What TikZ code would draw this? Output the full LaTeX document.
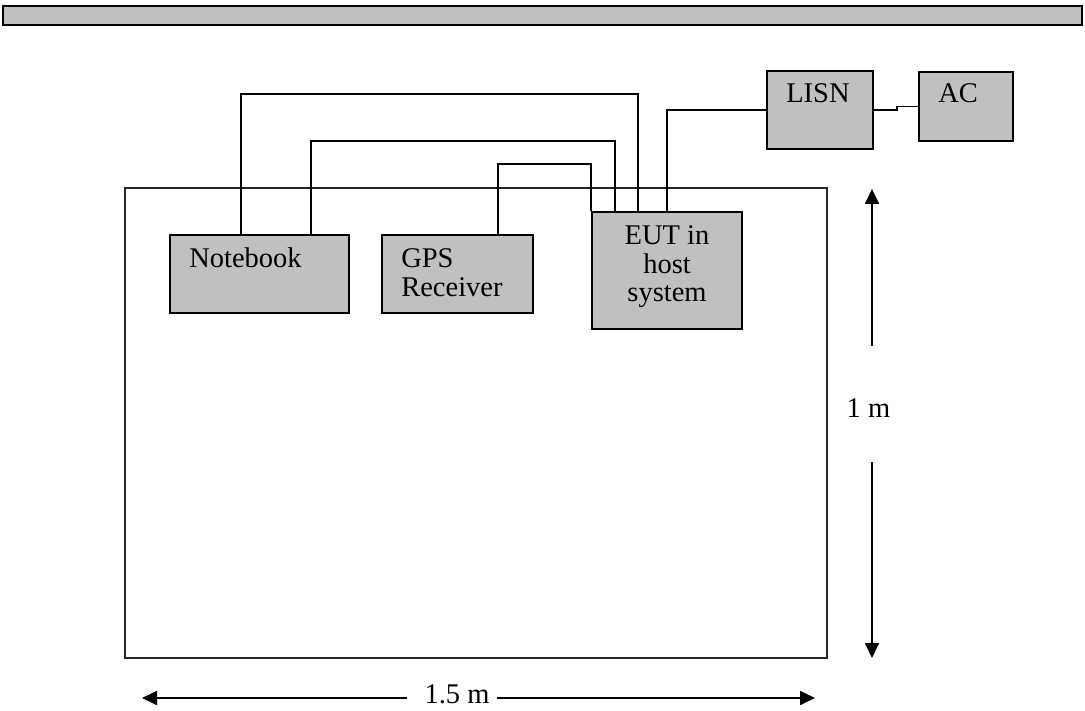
\documentclass[tikz,border=0pt]{standalone}
\usepackage{fontspec}
\setmainfont{Liberation Serif}
\usetikzlibrary{arrows.meta}
\tikzset{>={Triangle[length=15pt,width=14pt]}}
\definecolor{boxgray}{RGB}{192,192,192}
\tikzstyle{unitbox}=[draw=black,fill=boxgray,line width=1.8pt,inner sep=0pt]
\tikzstyle{cable}=[draw=black,line width=1.8pt]
\tikzstyle{dimline}=[draw=black,line width=1.8pt]
\tikzstyle{lbl}=[inner sep=0pt,font=\fontsize{28.5}{29}\selectfont]

\begin{document}
\begin{tikzpicture}[x=1pt,y=-1pt]
    \useasboundingbox (0,0) rectangle (1085,711);
    % ground plane bar
    \draw[unitbox] (3,6) rectangle (1082,25);
    % table
    \node[draw=black!85,line width=1.8pt,minimum width=702pt,minimum height=470pt,inner sep=0pt] (table) at (476,423) {};

    \node[unitbox,minimum width=179pt,minimum height=78pt] (nb) at (259.5,274) {};
    \node[unitbox,minimum width=151pt,minimum height=78pt] (gps) at (457.5,274) {};
    \node[unitbox,minimum width=150pt,minimum height=117pt] (eut) at (667,270.5) {};
    \node[unitbox,minimum width=106pt,minimum height=78pt] (lisn) at (820,110) {};
    \node[unitbox,minimum width=94pt,minimum height=69pt] (ac) at (966,106.5) {};

    \node[lbl,anchor=base west] (nbtext) at ([shift={(20,33)}]nb.north west) {Notebook};
    \node[lbl,anchor=base west] (gpstext) at ([shift={(20,33)}]gps.north west) {GPS};
    \node[lbl,anchor=base west] (rcvtext) at ([shift={(20,62)}]gps.north west) {Receiver};
    \node[lbl,anchor=base] (euttext1) at ([shift={(0,33)}]eut.north) {EUT in};
    \node[lbl,anchor=base] (euttext2) at ([shift={(0,62)}]eut.north) {host};
    \node[lbl,anchor=base] (euttext3) at ([shift={(0,90)}]eut.north) {system};
    \node[lbl,anchor=base west] (lisntext) at ([shift={(20,32)}]lisn.north west) {LISN};
    \node[lbl,anchor=base west] (actext) at ([shift={(20,31)}]ac.north west) {AC};

    % cables
    \draw[cable] ([xshift=72pt]nb.north west) -- ++(0,-140) -| ([xshift=47pt]eut.north west);
    \draw[cable] ([xshift=142pt]nb.north west) -- ++(0,-93) -| ([xshift=24pt]eut.north west);
    \draw[cable] ([xshift=117pt]gps.north west) -- ++(0,-70) -| (eut.north west);
    \draw[cable] (eut.north) |- (lisn.west);
    \draw[cable] (lisn.east) -- ++(23,0) |- (ac.west);

    % dimensions
    \node[lbl] (vlen) at (868.5,408) {1 m};
    \coordinate (vtop) at (872,189);
    \coordinate (vup) at (872,346);
    \coordinate (vdown) at (872,462);
    \coordinate (vbot) at (872,658);
    \draw[dimline,->] (vup) -- (vtop);
    \draw[dimline,->] (vdown) -- (vbot);

    \node[lbl,anchor=base] (hlen) at (457,703) {1.5 m};
    \coordinate (hleft) at (142,698);
    \coordinate (hright) at (815,698);
    \draw[dimline,->] ([xshift=-17pt]hlen.west |- hleft) -- (hleft);
    \draw[dimline,->] ([xshift=7pt]hlen.east |- hright) -- (hright);
\end{tikzpicture}
\end{document}
